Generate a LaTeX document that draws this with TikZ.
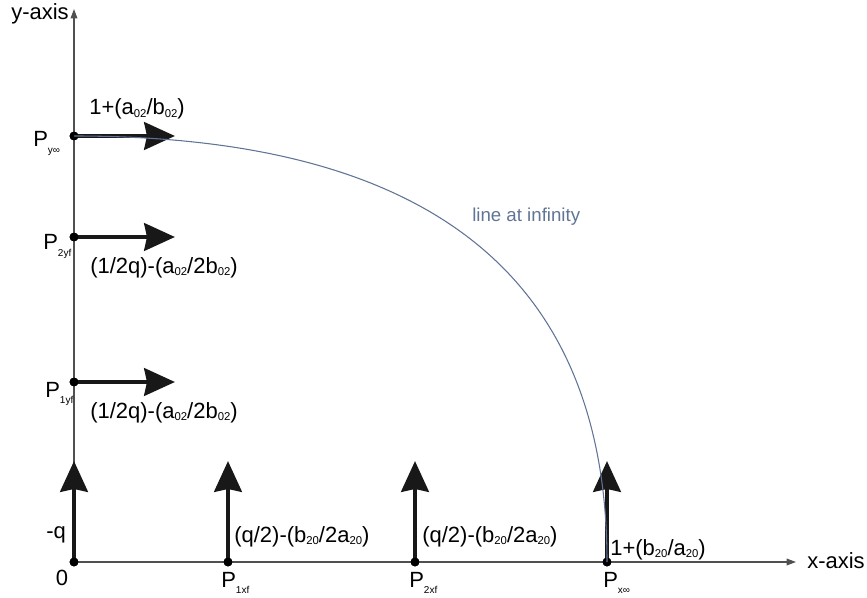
\documentclass[tikz,border=0pt]{standalone}
\usepackage{fontspec}
\setmainfont{Liberation Sans}
\usepackage{xcolor}
\usetikzlibrary{positioning,arrows.meta,calc}
\definecolor{infblue}{RGB}{96,116,150}
\definecolor{axisgray}{RGB}{80,80,80}
\definecolor{forceblk}{RGB}{24,24,24}
% small lowered subscripts as in the original drawing
\newcommand{\psub}[1]{\raisebox{-5pt}{\fontsize{7.5}{8}\selectfont #1}}
\newcommand{\isub}[1]{\raisebox{-2.2pt}{\fontsize{8.5}{9}\selectfont #1}}

\begin{document}
\begin{tikzpicture}[x=0.75pt, y=0.75pt,
    every node/.style={font=\fontsize{16.5}{19}\selectfont, inner sep=0pt},
    axis/.style={draw=axisgray, line width=0.9pt, -{Triangle[length=7pt, width=5pt]}},
    force/.style={draw=forceblk, line width=3.7pt, -{Stealth[length=23pt, width=20.5pt, inset=2pt]}},
    dot/.style={circle, fill=black, minimum size=6.6pt},
    infline/.style={draw=infblue, line width=0.8pt}]
  \useasboundingbox (0,0) rectangle (867,597);

  % points on the axes
  \node[dot] (O)     at (74,35)  {};
  \node[dot] (P1xf)  at (228,35) {};
  \node[dot] (P2xf)  at (415,35) {};
  \node[dot] (Pxinf) at (607,35) {};
  \node[dot] (P1yf)  at (74,215) {};
  \node[dot] (P2yf)  at (74,360) {};
  \node[dot] (Pyinf) at (74,461) {};
  \coordinate (ytip) at (74,588);
  \coordinate (xtip) at (796,35);

  % axes
  \draw[axis] (O.center) -- (ytip);
  \draw[axis] (O.center) -- (xtip);
  \node[anchor=base east] (ylab) at (69,577) {y-axis};
  \node[anchor=base west] (xlab) at (807,29) {x-axis};

  % force arrows
  \foreach \p in {O,P1xf,P2xf,Pxinf} {
    \coordinate (\p-tip) at ($(\p.center)+(0,101)$);
  }
  \foreach \p in {P1yf,P2yf,Pyinf} {
    \coordinate (\p-tip) at ($(\p.center)+(101,0)$);
  }
  \foreach \p in {O,P1xf,P2xf,Pxinf,P1yf,P2yf,Pyinf} {
    \draw[force] (\p.center) -- (\p-tip);
  }
  \foreach \p in {O,P1xf,P2xf,Pxinf,P1yf,P2yf,Pyinf} {
    \node[dot] at (\p) {};
  }

  % line at infinity
  \draw[infline] (Pyinf.center) .. controls (431,461) and (607,320) .. (Pxinf.center);
  \node[anchor=base west, text=infblue, font=\fontsize{14}{16}\selectfont] (inflab) at (472,375) {line at infinity};

  % point names
  \node[anchor=base] (lO) at (62,12) {0};
  \node[anchor=base west] (lP1xf) at (221,10) {P\psub{1xf}};
  \node[anchor=base west] (lP2xf) at (409,10) {P\psub{2xf}};
  \node[anchor=base west] (lPxinf) at (603,10) {P\psub{x∞}};
  \node[anchor=base west] (lP1yf) at (45,200) {P\psub{1yf}};
  \node[anchor=base west] (lP2yf) at (43,347) {P\psub{2yf}};
  \node[anchor=base west] (lPyinf) at (33,450) {P\psub{y∞}};

  % force values
  \node[anchor=base west] (fO) at (46,59) {-q};
  \node[anchor=base west] (fP1xf) at (234,55) {(q/2)-(b\isub{20}/2a\isub{20})};
  \node[anchor=base west] (fP2xf) at (422,55) {(q/2)-(b\isub{20}/2a\isub{20})};
  \node[anchor=base west] (fPxinf) at (610,42) {1+(b\isub{20}/a\isub{20})};
  \node[anchor=base west] (fP1yf) at (90,179) {(1/2q)-(a\isub{02}/2b\isub{02})};
  \node[anchor=base west] (fP2yf) at (90,324) {(1/2q)-(a\isub{02}/2b\isub{02})};
  \node[anchor=base west] (fPyinf) at (89,482) {1+(a\isub{02}/b\isub{02})};
\end{tikzpicture}
\end{document}
